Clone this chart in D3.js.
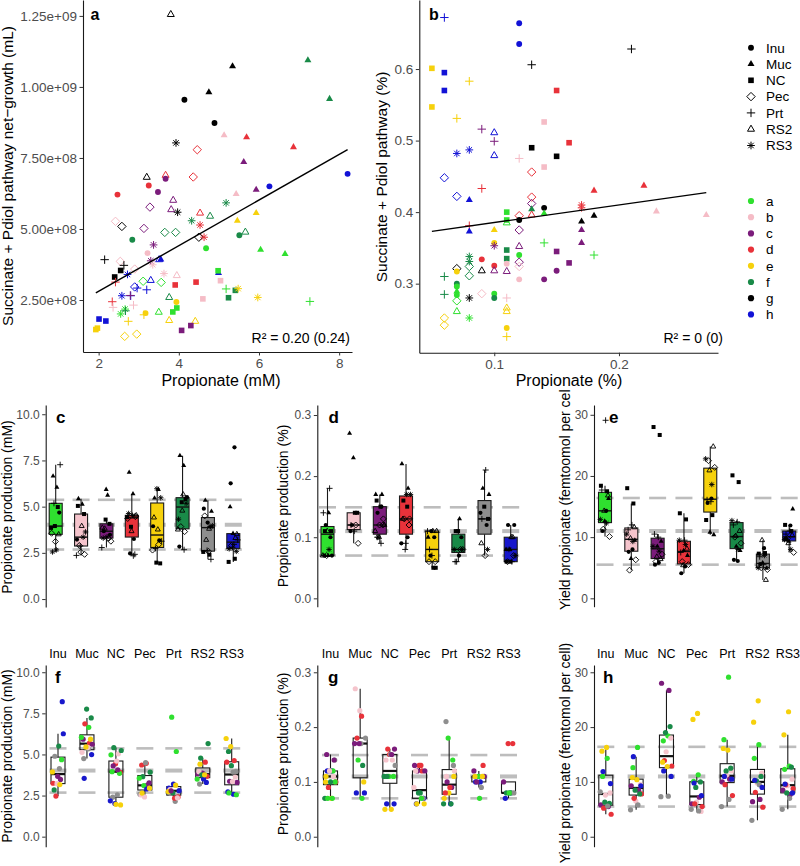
<!DOCTYPE html>
<html><head><meta charset="utf-8">
<script src="https://cdn.jsdelivr.net/npm/d3@7"></script>
<style>body{margin:0;background:#fff}svg{display:block}</style>
</head><body><svg id="chart" width="800" height="866"></svg>
<script>
// ---------------- DATA ----------------
const groups = ["a","b","c","d","e","f","g","h"];
const substrates = ["Inu","Muc","NC","Pec","Prt","RS2","RS3"];
const groupColors = {a:"#2fe02f",b:"#f5bcc6",c:"#7b1c7b",d:"#e8323a",e:"#f6d10c",f:"#198a48",g:"#000000",h:"#1212d6"};
const boxGroupColors = {a:"#2fe02f",b:"#f5c4cc",c:"#7b1c7b",d:"#e8323a",e:"#f6d10c",f:"#198a48",g:"#8e8e8e",h:"#1818cc"};

// panel a: [group, substrate, propionate (mM), Succinate+Pdiol net-growth (x1e8 mL)]
const scatterA = [
["g","RS2",3.80,12.55],["g","Muc",5.34,10.73],["g","Muc",4.75,9.81],["f","Muc",7.22,10.94],["f","Muc",7.76,9.58],
["g","Inu",4.14,9.55],["g","Inu",4.89,8.73],["b","Muc",5.13,8.30],["d","Muc",5.69,8.23],["d","Muc",6.86,7.88],
["g","RS3",3.93,8.03],["d","Pec",4.46,7.79],["c","Muc",5.62,7.36],["h","Inu",8.21,6.94],["g","RS2",3.20,6.82],
["d","RS2",3.67,6.89],["c","Inu",3.67,6.77],["d","Pec",4.36,6.83],["d","Inu",3.25,6.53],["c","Inu",3.48,6.30],
["d","Inu",2.47,6.21],["h","Inu",6.26,6.50],["b","Muc",5.43,6.23],["c","Muc",5.93,6.38],["f","RS3",5.18,5.92],
["c","RS2",3.86,6.01],["c","Pec",3.28,5.77],["c","RS2",3.81,5.68],["g","RS3",3.97,5.59],["d","RS2",4.53,5.56],
["f","RS2",4.78,5.45],["e","Muc",5.93,5.56],["e","Muc",5.46,5.29],["f","RS3",4.32,5.29],["d","RS3",4.53,5.14],
["b","Pec",2.42,5.27],["g","Pec",2.58,5.09],["c","Pec",3.13,5.02],["f","Pec",3.65,4.88],["f","Pec",3.92,4.88],
["g","Pec",4.50,4.71],["d","RS3",4.63,4.71],["f","Inu",5.51,4.78],["f","RS2",5.66,4.89],["f","Inu",2.84,4.62],
["c","RS3",3.37,4.44],["a","Muc",6.04,4.27],["a","Muc",6.65,4.12],["a","Inu",4.68,4.32],["g","Prt",2.15,3.92],
["b","Pec",2.54,3.86],["b","Inu",3.22,4.15],["c","RS3",3.30,3.88],["h","RS2",3.51,3.92],["h","Muc",3.55,3.93],
["b","RS3",3.35,3.74],["g","Prt",2.63,3.72],["b","Pec",2.90,3.59],["g","NC",2.55,3.54],["g","NC",2.40,3.31],
["h","RS3",2.72,3.40],["d","Prt",2.42,3.13],["b","RS3",3.63,3.43],["b","RS2",3.95,3.36],["a","Pec",3.11,3.16],
["h","RS2",3.30,3.19],["a","Pec",3.56,3.12],["h","Pec",2.90,2.96],["h","Prt",3.20,2.86],["h","Prt",2.96,2.92],
["d","NC",3.91,3.03],["d","NC",4.43,3.13],["h","Muc",4.99,3.45],["a","NC",4.98,3.53],["b","NC",5.04,3.18],
["a","Prt",5.18,2.89],["f","NC",5.41,2.84],["e","RS3",5.48,2.90],["e","RS3",5.97,2.59],["a","Prt",7.27,2.45],
["f","NC",5.24,2.58],["b","NC",4.60,2.54],["f","RS2",3.76,2.59],["h","RS3",2.58,2.65],["h","Prt",2.80,2.65],
["d","Prt",2.34,2.44],["b","Prt",2.87,2.32],["b","Prt",2.36,2.24],["e","Inu",3.94,2.43],["a","RS3",2.66,2.18],
["a","RS3",2.55,2.01],["f","Prt",2.67,2.12],["a","RS2",3.50,2.07],["e","Inu",3.17,2.04],["a","NC",3.95,2.22],
["a","NC",3.85,2.08],["h","NC",2.01,1.83],["h","NC",2.18,1.76],["e","Prt",2.74,1.75],["e","Prt",3.13,1.98],
["e","RS2",3.76,1.78],["e","RS2",4.41,1.75],["c","NC",4.07,1.43],["c","NC",4.30,1.60],["e","NC",1.93,1.46],
["e","NC",1.97,1.51],["e","Pec",2.65,1.22],["e","Pec",2.95,1.30],["c","Prt",2.79,2.66]
];
const scaleA = 1e8;

// panel b: [group, substrate, propionate (%), Succinate+Pdiol pathway (%)]
const scatterB = [
["h","Prt",.06,.672],["h","Inu",.12,.664],["h","Inu",.12,.635],["g","Prt",.21,.628],["g","Prt",.13,.606],
["e","NC",.05,.601],["h","NC",.06,.595],["e","Prt",.08,.583],["h","NC",.06,.570],["d","NC",.15,.570],
["e","NC",.05,.547],["e","Prt",.07,.531],["b","NC",.14,.526],["c","Prt",.09,.516],["h","RS2",.10,.511],
["c","Prt",.10,.499],["d","NC",.16,.497],["g","NC",.13,.490],["h","RS3",.08,.487],["h","RS3",.07,.482],
["h","RS2",.10,.479],["g","NC",.15,.478],["b","Prt",.12,.475],["b","NC",.14,.463],["d","Pec",.13,.456],
["h","Pec",.06,.448],["d","Prt",.09,.433],["d","Muc",.22,.437],["d","Muc",.18,.430],["h","Pec",.07,.422],
["h","Muc",.08,.417],["d","Pec",.13,.421],["c","Pec",.13,.412],["g","Inu",.14,.406],["d","RS3",.17,.410],
["d","RS3",.17,.406],["b","Muc",.23,.401],["b","Muc",.27,.396],["f","Muc",.13,.404],["a","Muc",.14,.398],
["a","NC",.11,.400],["d","RS2",.13,.396],["d","Pec",.12,.395],["g","Inu",.12,.389],["a","NC",.11,.389],
["a","RS2",.11,.385],["g","Muc",.18,.395],["g","Muc",.17,.387],["d","Prt",.08,.381],["h","Muc",.08,.373],
["e","Muc",.10,.375],["c","Pec",.12,.375],["c","Muc",.17,.375],["c","Muc",.17,.357],["a","Prt",.14,.357],
["e","Inu",.10,.357],["c","RS3",.10,.353],["c","RS2",.12,.352],["f","NC",.11,.347],["c","NC",.15,.345],
["a","Prt",.18,.340],["a","Inu",.12,.340],["f","RS3",.08,.338],["f","NC",.11,.335],["d","Inu",.09,.334],
["f","RS3",.08,.331],["c","NC",.16,.329],["c","Pec",.12,.330],["f","Pec",.08,.324],["d","Inu",.10,.325],
["b","Pec",.12,.324],["g","Pec",.07,.321],["e","Inu",.07,.317],["g","RS2",.09,.318],["c","RS2",.10,.318],
["c","RS2",.11,.317],["c","Inu",.15,.318],["f","Prt",.06,.310],["f","Pec",.08,.311],["c","Inu",.14,.306],
["b","Inu",.12,.306],["f","Inu",.07,.300],["a","Inu",.07,.296],["a","Muc",.07,.289],["a","Inu",.07,.284],
["f","Prt",.06,.285],["b","Pec",.09,.286],["a","Inu",.10,.286],["f","Inu",.10,.280],["g","RS3",.08,.280],
["b","Prt",.11,.280],["a","Pec",.07,.276],["a","RS2",.07,.261],["e","RS2",.11,.266],["e","RS2",.11,.261],
["a","RS3",.08,.252],["e","Pec",.06,.252],["e","Pec",.06,.242],["e","Inu",.11,.238],["e","Prt",.11,.226],
["b","Inu",.11,.328]
];

// yield propionate (femtomol per cell): [group, substrate, rep1, rep2]
const yieldData = [
["a","Inu",14.3,11.0],["a","Muc",16.3,12.6],["a","NC",18.4,17.5],["a","Pec",11.3,10.1],["a","Prt",29.1,17.7],["a","RS2",16.8,14.3],["a","RS3",12.9,12.3],
["b","Inu",8.0,7.6],["b","Muc",9.5,6.5],["b","NC",18.0,15.5],["b","Pec",4.6,6.3],["b","Prt",12.0,11.2],["b","RS2",11.6,9.8],["b","RS3",10.5,9.3],
["c","Inu",5.8,5.5],["c","Muc",9.3,8.5],["c","NC",28.0,26.7],["c","Pec",6.0,7.2],["c","Prt",10.0,10.5],["c","RS2",6.4,6.8],["c","RS3",8.5,7.7],
["d","Inu",5.2,4.1],["d","Muc",7.0,7.8],["d","NC",13.9,12.9],["d","Pec",6.0,5.5],["d","Prt",9.5,7.5],["d","RS2",8.1,5.4],["d","RS3",9.5,8.8],
["e","Inu",16.3,15.6],["e","Muc",10.4,10.8],["e","NC",12.8,13.6],["e","Pec",22.5,21.4],["e","Prt",15.8,16.1],["e","RS2",24.8,20.9],["e","RS3",22.8,18.6],
["f","Inu",6.1,6.3],["f","Muc",7.8,8.5],["f","NC",20.1,19.0],["f","Pec",10.0,9.0],["f","Prt",12.5,12.0],["f","RS2",11.0,10.2],["f","RS3",12.7,8.0],
["g","Inu",8.2,5.6],["g","Muc",4.9,5.8],["g","NC",7.3,7.4],["g","Pec",5.0,4.7],["g","Prt",5.5,6.8],["g","RS2",3.0,9.5],["g","RS3",5.0,7.0],
["h","Inu",11.9,9.7],["h","Muc",14.6,9.3],["h","NC",12.0,11.0],["h","Pec",9.8,7.5],["h","Prt",11.0,10.5],["h","RS2",10.3,9.0],["h","RS3",9.6,8.0]
];

// fitted lines (y = intercept + slope*x)
const fitA = {intercept:1.20, slope:0.803};
const fitB = {intercept:0.3608, slope:0.2462};
const r2Labels = ["R\u00B2 = 0.20 (0.24)","R\u00B2 = 0 (0)"];

const aXTicks=[2,4,6,8];
const aYTicks=[2.5,5,7.5,10,12.5];
const aYLabels=["2.50e+08","5.00e+08","7.50e+08","1.00e+09","1.25e+09"];
const bXTicks=[0.1,0.2];
const bYTicks=[0.3,0.4,0.5,0.6];
const mMTicks=[0,2.5,5,7.5,10];
const pctTicks=[0,0.1,0.2,0.3];
const yieldTicks=[0,10,20,30];
const refMM=[2.68,4.02,5.37];
const refPct=[0.07,0.11,0.149];
const refYield=[5.5,11.0,16.4];

// ---------------- DRAWING ----------------
const FONT='"Liberation Sans", Arial, Helvetica, sans-serif';
const svg=d3.select("#chart").style("font-family",FONT);

function drawSym(p, shape, x, y, s, color, sw){
  sw = sw||1;
  const h=s*0.866;
  if(shape==="Inu"){ p.append("circle").attr("cx",x).attr("cy",y).attr("r",s*0.42).attr("fill",color); }
  else if(shape==="Muc"||shape==="RS2"){
    const d=`M${x},${y-2*h/3}L${x+s/2},${y+h/3}L${x-s/2},${y+h/3}Z`;
    const e=p.append("path").attr("d",d);
    if(shape==="Muc") e.attr("fill",color); else e.attr("fill","none").attr("stroke",color).attr("stroke-width",sw);
  }
  else if(shape==="NC"){ const a=s*0.8; p.append("rect").attr("x",x-a/2).attr("y",y-a/2).attr("width",a).attr("height",a).attr("fill",color); }
  else if(shape==="Pec"){ const a=s*0.6; p.append("path").attr("d",`M${x},${y-a}L${x+a},${y}L${x},${y+a}L${x-a},${y}Z`).attr("fill","none").attr("stroke",color).attr("stroke-width",sw); }
  else if(shape==="Prt"){ const a=s*0.6; p.append("path").attr("d",`M${x-a},${y}H${x+a}M${x},${y-a}V${y+a}`).attr("stroke",color).attr("stroke-width",sw); }
  else if(shape==="RS3"){ const a=s*0.55, b=a*0.707; p.append("path").attr("d",`M${x-a},${y}H${x+a}M${x},${y-a}V${y+a}M${x-b},${y-b}L${x+b},${y+b}M${x-b},${y+b}L${x+b},${y-b}`).attr("stroke",color).attr("stroke-width",sw); }
}

function styleAxis(g, fs){
  g.select(".domain").attr("stroke","#1a1a1a").attr("stroke-width",1.1);
  g.selectAll(".tick line").attr("stroke","#333");
  g.selectAll(".tick text").attr("fill","#4d4d4d").style("font-size",fs+"px").style("font-family",FONT);
}
function yTitle(text, x, y, fs, anchor, parent){
  return (parent||svg).append("text").attr("transform",`translate(${x},${y}) rotate(-90)`).attr("text-anchor",anchor||"middle")
    .style("font-size",fs+"px").attr("fill","#000").text(text);
}
function label(text,x,y,fs){
  svg.append("text").attr("x",x).attr("y",y).style("font-size",fs+"px").style("font-weight","bold").text(text);
}

// ---- scatter panels ----
function scatterPanel(data, xs, ys, fit, r2, r2x, xTicks, xFmt, yTicks, yFmt){
  const g=svg.append("g");
  data.forEach(d=>drawSym(g,d[1],xs(d[2]),ys(d[3]),7,groupColors[d[0]],1));
  const ext=d3.extent(data,d=>d[2]);
  svg.append("line").attr("x1",xs(ext[0])).attr("x2",xs(ext[1]))
    .attr("y1",ys(fit.intercept+fit.slope*ext[0])).attr("y2",ys(fit.intercept+fit.slope*ext[1]))
    .attr("stroke","#000").attr("stroke-width",1.4);
  const ax=svg.append("g").attr("transform",`translate(0,${ys.range()[0]})`)
    .call(d3.axisBottom(xs).tickValues(xTicks).tickFormat(xFmt).tickSize(3.5).tickPadding(3).tickSizeOuter(0));
  styleAxis(ax,13.5);
  const ay=svg.append("g").attr("transform",`translate(${xs.range()[0]},0)`)
    .call(d3.axisLeft(ys).tickValues(yTicks).tickFormat(yFmt).tickSize(3.5).tickPadding(2.5).tickSizeOuter(0));
  styleAxis(ay,13.5);
  svg.append("text").attr("x",r2x).attr("y",343).attr("text-anchor","end").style("font-size","14px").text(r2);
}

const xA=d3.scaleLinear().domain([1.61,8.32]).range([83,352]);
const yA=d3.scaleLinear().domain([0.67,13.06]).range([352,0]);
scatterPanel(scatterA,xA,yA,fitA,r2Labels[0],350,aXTicks,d3.format("d"),aYTicks,(d,i)=>aYLabels[i]);
label("a",90.5,20,16);
svg.append("text").attr("x",221).attr("y",386).attr("text-anchor","middle").style("font-size","16px").text("Propionate (mM)");
yTitle("Succinate + Pdiol pathway net\u2212growth (mL)",12.5,176,15.5);

const xB=d3.scaleLinear().domain([0.0399,0.2794]).range([419.3,718]);
const yB=d3.scaleLinear().domain([0.2035,0.6965]).range([352.7,0]);
scatterPanel(scatterB,xB,yB,fitB,r2Labels[1],723,bXTicks,d3.format(".1f"),bYTicks,d3.format(".1f"));
label("b",429,20,16);
svg.append("text").attr("x",569).attr("y",386).attr("text-anchor","middle").style("font-size","16px").text("Propionate (%)");
yTitle("Succinate + Pdiol pathway (%)",387,177,15.5);

// legends
const lg=svg.append("g");
substrates.forEach((s,i)=>{
  const y=47.7+i*16.3;
  drawSym(lg,s,751,y,7,"#000",1);
  lg.append("text").attr("x",766).attr("y",y+4.8).style("font-size","13.5px").text(s);
});
groups.forEach((gr,i)=>{
  const y=201+i*16.2;
  lg.append("circle").attr("cx",751).attr("cy",y).attr("r",3.1).attr("fill",groupColors[gr]);
  lg.append("text").attr("x",766).attr("y",y+4.8).style("font-size","13.5px").text(gr);
});

// ---- box panels ----
function boxStats(vals){
  const s=vals.slice().sort(d3.ascending);
  const q1=d3.quantile(s,.25), med=d3.quantile(s,.5), q3=d3.quantile(s,.75), iqr=q3-q1;
  return {q1,med,q3,lo:d3.min(s.filter(v=>v>=q1-1.5*iqr)),hi:d3.max(s.filter(v=>v<=q3+1.5*iqr))};
}
function boxPanel(o){
  const xs=d3.scalePoint().domain(o.cats).range(o.xRange);
  const ys=d3.scaleLinear().domain(o.yDomain).range(o.yRange);
  const g=svg.append("g");
  o.ref.forEach((r,i)=>{
    o.cats.forEach(c=>{
      g.append("line").attr("x1",xs(c)-8.5).attr("x2",xs(c)+8.5).attr("y1",ys(r)).attr("y2",ys(r))
        .attr("stroke","#bdbdbd").attr("stroke-width",i===1?4:2.6);
    });
  });
  o.cats.forEach(c=>{
    const vals=o.points.filter(p=>p.cat===c).map(p=>p.v);
    if(!vals.length) return;
    const st=boxStats(vals), x=xs(c), bw=o.bw;
    g.append("line").attr("x1",x).attr("x2",x).attr("y1",ys(st.hi)).attr("y2",ys(st.q3)).attr("stroke","#1a1a1a").attr("stroke-width",1.1);
    g.append("line").attr("x1",x).attr("x2",x).attr("y1",ys(st.q1)).attr("y2",ys(st.lo)).attr("stroke","#1a1a1a").attr("stroke-width",1.1);
    g.append("rect").attr("x",x-bw/2).attr("y",ys(st.q3)).attr("width",bw).attr("height",ys(st.q1)-ys(st.q3))
      .attr("fill",o.fill?o.fill(c):"none").attr("stroke","#1a1a1a").attr("stroke-width",1.1);
    g.append("line").attr("x1",x-bw/2).attr("x2",x+bw/2).attr("y1",ys(st.med)).attr("y2",ys(st.med))
      .attr("stroke","#111").attr("stroke-width",o.medW);
  });
  const counters={};
  o.points.forEach(p=>{
    const k=counters[p.cat]=(counters[p.cat]||0)+1;
    const off=(((k*0.6180339887)%1)-0.5)*2*o.jit;
    const x=xs(p.cat)+off, y=ys(p.v);
    if(o.mode==="shape") drawSym(g,p.shape,x,y,5,"#000",0.9);
    else g.append("circle").attr("cx",x).attr("cy",y).attr("r",2.6).attr("fill",p.color);
  });
  const ay=svg.append("g").attr("transform",`translate(${o.axisX},0)`)
    .call(d3.axisLeft(ys).tickValues(o.ticks).tickFormat(o.fmt).tickSize(3.5).tickPadding(2.5).tickSizeOuter(0));
  styleAxis(ay,12);
  if(o.catLabels){
    o.cats.forEach(c=>svg.append("text").attr("x",xs(c)).attr("y",o.catLabelY).attr("text-anchor","middle")
      .style("font-size","12.5px").attr("fill","#000").text(c));
  }
}

const ptsA_group=scatterA.map(d=>({cat:d[0],v:d[2],shape:d[1]}));
const ptsA_sub=scatterA.map(d=>({cat:d[1],v:d[2],color:boxGroupColors[d[0]]}));
const ptsB_group=scatterB.map(d=>({cat:d[0],v:d[2],shape:d[1]}));
const ptsB_sub=scatterB.map(d=>({cat:d[1],v:d[2],color:boxGroupColors[d[0]]}));
const yieldRows=[];
yieldData.forEach(d=>{yieldRows.push({g:d[0],s:d[1],v:d[2]});yieldRows.push({g:d[0],s:d[1],v:d[3]});});
const ptsY_group=yieldRows.map(d=>({cat:d.g,v:d.v,shape:d.s}));
const ptsY_sub=yieldRows.map(d=>({cat:d.s,v:d.v,color:boxGroupColors[d.g]}));

const f1=d3.format(".1f"), f0=d3.format("d");
boxPanel({cats:groups,xRange:[55.7,233.3],yDomain:[-0.43,10.5],yRange:[607,405],axisX:45.7,ticks:mMTicks,fmt:f1,
  ref:refMM,points:ptsA_group,mode:"shape",fill:c=>boxGroupColors[c],bw:13,jit:5,medW:1.4});
boxPanel({cats:groups,xRange:[327.5,510.7],yDomain:[-0.0137,0.3164],yRange:[606.7,405],axisX:317.3,ticks:pctTicks,fmt:f1,
  ref:refPct,points:ptsB_group,mode:"shape",fill:c=>boxGroupColors[c],bw:13,jit:5,medW:1.4});
boxPanel({cats:groups,xRange:[605,789.2],yDomain:[-1.37,31.6],yRange:[606.7,405],axisX:594,ticks:yieldTicks,fmt:f0,
  ref:refYield,points:ptsY_group,mode:"shape",fill:c=>boxGroupColors[c],bw:13,jit:5,medW:1.4});
boxPanel({cats:substrates,xRange:[58,231.7],yDomain:[-0.61,10.44],yRange:[846.7,665],axisX:45.7,ticks:mMTicks,fmt:f1,
  ref:refMM,points:ptsA_sub,mode:"color",bw:14,jit:6,medW:2.2,catLabels:true,catLabelY:658});
boxPanel({cats:substrates,xRange:[330.5,508.5],yDomain:[-0.0182,0.3133],yRange:[846.7,665],axisX:317.3,ticks:pctTicks,fmt:f1,
  ref:refPct,points:ptsB_sub,mode:"color",bw:14,jit:6,medW:2.2,catLabels:true,catLabelY:658});
boxPanel({cats:substrates,xRange:[605.8,787.8],yDomain:[-1.82,31.33],yRange:[846.7,665],axisX:594,ticks:yieldTicks,fmt:f0,
  ref:refYield,points:ptsY_sub,mode:"color",bw:14,jit:6,medW:2.2,catLabels:true,catLabelY:658});

label("c",56,423,17); label("d",328.5,423,17); label("e",609,423,17);
label("f",55,683,17); label("g",328,683,17); label("h",603,683,17);

yTitle("Propionate production (mM)",11.5,507,14);
yTitle("Propionate production (%)",288,506,14);
svg.append("clipPath").attr("id","clipE").attr("clipPathUnits","userSpaceOnUse")
  .append("rect").attr("x",540).attr("y",389).attr("width",60).attr("height",240);
const clipG=svg.append("g").attr("clip-path","url(#clipE)");
yTitle("Yield propionate (femtoomol per cell)",570,610,14,"start",clipG);
yTitle("Propionate production (mM)",11.5,756,14);
yTitle("Propionate production (%)",288,754,14);
yTitle("Yield propionate (femtomol per cell)",570,753,14);
</script></body></html>
